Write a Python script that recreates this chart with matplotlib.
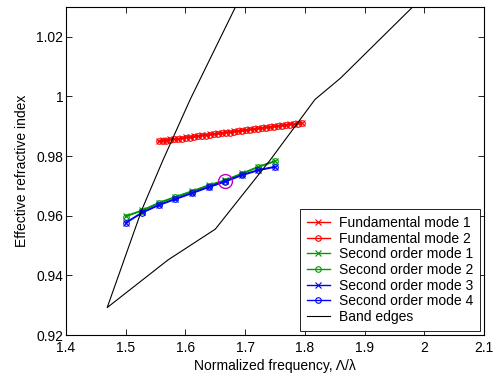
import numpy as np
import matplotlib
matplotlib.use("Agg")
import matplotlib.pyplot as plt
from matplotlib.ticker import FormatStrFormatter

plt.rcParams['font.family'] = ['Liberation Sans', 'DejaVu Sans']
plt.rcParams['font.size'] = 10

# fundamental modes (red)
freq_fund = [1.555, 1.5617, 1.5683, 1.575, 1.5817, 1.5883, 1.595, 1.6017, 1.6083,
             1.615, 1.6217, 1.6283, 1.635, 1.6417, 1.6483, 1.655, 1.6617, 1.6683,
             1.675, 1.6817, 1.6883, 1.695, 1.7017, 1.7083, 1.715, 1.7217, 1.7283,
             1.735, 1.7417, 1.7483, 1.755, 1.7617, 1.7683, 1.775, 1.7817, 1.7883, 1.795]
n_fund1 = [0.9851, 0.9853, 0.9854, 0.9856, 0.9858, 0.9859, 0.9861, 0.9863, 0.9864,
           0.9866, 0.9868, 0.9870, 0.9871, 0.9873, 0.9875, 0.9876, 0.9878, 0.9880,
           0.9881, 0.9883, 0.9885, 0.9886, 0.9888, 0.9890, 0.9892, 0.9893, 0.9895,
           0.9897, 0.9898, 0.9900, 0.9902, 0.9903, 0.9905, 0.9907, 0.9908, 0.9910, 0.9911]
n_fund2 = [0.9849, 0.9851, 0.9852, 0.9854, 0.9856, 0.9857, 0.9859, 0.9861, 0.9862,
           0.9864, 0.9866, 0.9868, 0.9869, 0.9871, 0.9873, 0.9874, 0.9876, 0.9878,
           0.9879, 0.9881, 0.9883, 0.9884, 0.9886, 0.9888, 0.9890, 0.9891, 0.9893,
           0.9895, 0.9896, 0.9898, 0.9900, 0.9901, 0.9903, 0.9905, 0.9906, 0.9908, 0.9910]

# second order modes
freq_so = [1.5, 1.5278, 1.5556, 1.5833, 1.6111, 1.6389, 1.6667, 1.6944, 1.7222, 1.75]
n_so1 = [0.9599, 0.9619, 0.9644, 0.9664, 0.9683, 0.9703, 0.9720, 0.9742, 0.9765, 0.9784]
n_so2 = [0.9597, 0.9617, 0.9642, 0.9662, 0.9681, 0.9701, 0.9718, 0.9740, 0.9763, 0.9782]
n_so3 = [0.9577, 0.9612, 0.9637, 0.9657, 0.9677, 0.9697, 0.9716, 0.9737, 0.9754, 0.9765]
n_so4 = [0.9575, 0.9610, 0.9635, 0.9655, 0.9675, 0.9695, 0.9714, 0.9735, 0.9752, 0.9763]

# band edges
freq_band = [1.685, 1.608, 1.5625, 1.527, 1.469, 1.571, 1.65, 1.742, 1.817, 1.86, 1.983]
n_band = [1.0305, 0.999, 0.9787, 0.962, 0.9292, 0.9452, 0.9555, 0.9787, 0.999, 1.0062, 1.0305]

# highlighted point
hl_freq = 1.6667
hl_n = 0.9718

green = (0, 0.6, 0)
fig = plt.figure(figsize=(4.95, 3.81), dpi=100)
ax = fig.add_axes([0.1333, 0.1207, 0.8445, 0.8609])

kw = dict(lw=1.0, ms=4, mew=0.8)
ax.plot(freq_fund, n_fund1, '-x', color='r', label='Fundamental mode 1', **kw)
ax.plot(freq_fund, n_fund2, '-o', color='r', mfc='none', label='Fundamental mode 2', **kw)
ax.plot(freq_so, n_so1, '-x', color=green, label='Second order mode 1', **kw)
ax.plot(freq_so, n_so2, '-o', color=green, mfc='none', label='Second order mode 2', **kw)
ax.plot(freq_so, n_so3, '-x', color='b', label='Second order mode 3', **kw)
ax.plot(freq_so, n_so4, '-o', color='b', mfc='none', label='Second order mode 4', **kw)
ax.plot(freq_band, n_band, '-', color='k', lw=0.8, label='Band edges')
ax.plot([hl_freq], [hl_n], 'o', color='m', mfc='none', ms=10, mew=1.0)

ax.set_xlim(1.4, 2.1)
ax.set_ylim(0.92, 1.03)
ax.set_xticks([1.4, 1.5, 1.6, 1.7, 1.8, 1.9, 2.0, 2.1])
ax.set_yticks([0.92, 0.94, 0.96, 0.98, 1.0, 1.02])
ax.xaxis.set_major_formatter(FormatStrFormatter('%g'))
ax.yaxis.set_major_formatter(FormatStrFormatter('%g'))
ax.tick_params(direction='in', top=True, right=True, length=4, width=0.6)
ax.tick_params(axis='x', pad=4)
ax.tick_params(axis='y', pad=2)
for s in ax.spines.values():
    s.set_linewidth(0.8)

ax.set_xlabel('Normalized frequency, Λ/λ', labelpad=3)
ax.set_ylabel('Effective refractive index', labelpad=5)

leg = ax.legend(loc='lower right', fancybox=False, edgecolor='k', framealpha=1,
                borderaxespad=0.3, labelspacing=0.12, handlelength=1.7,
                handletextpad=0.6, borderpad=0.5)
leg.get_frame().set_linewidth(0.6)

fig.savefig('out.png', dpi=100)
